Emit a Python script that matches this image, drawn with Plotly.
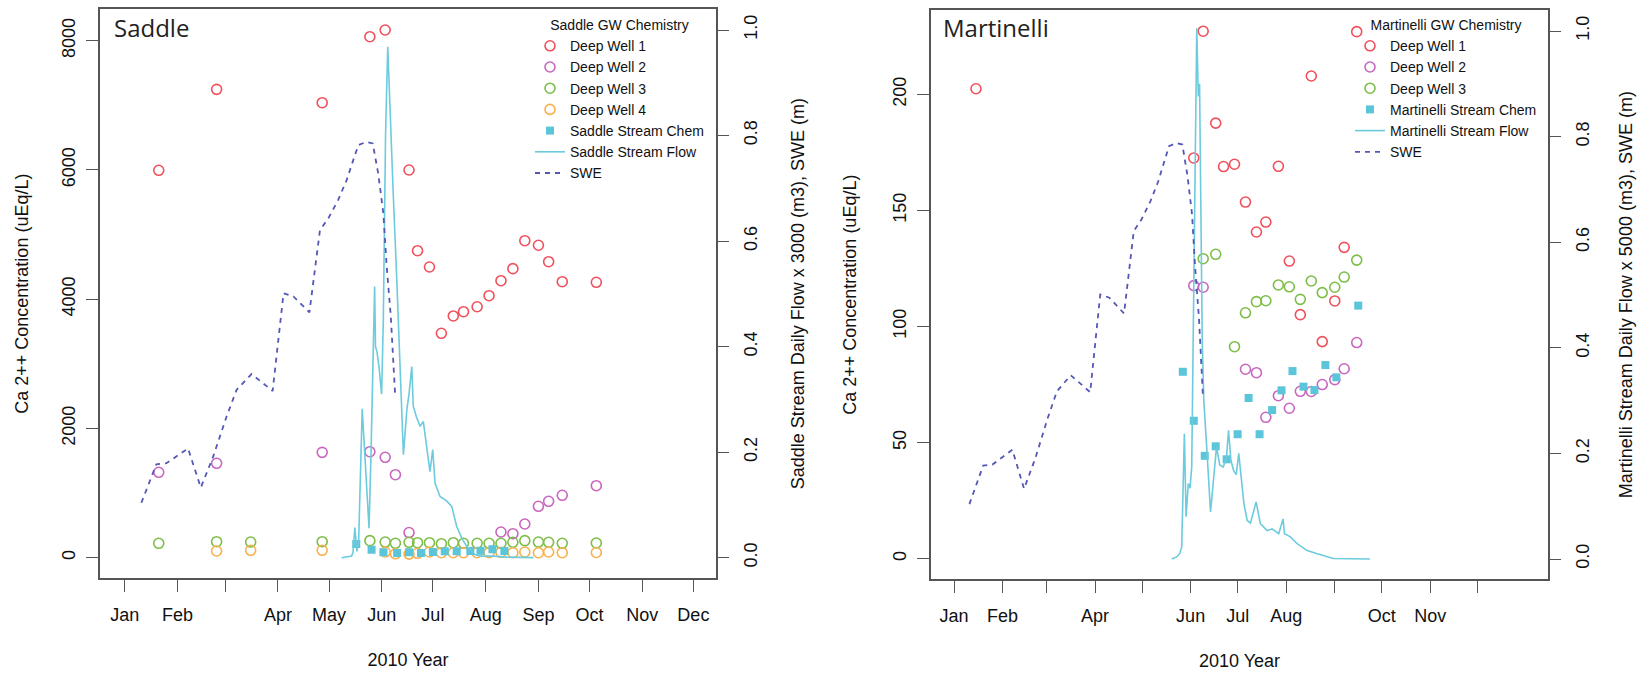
import pandas as pd
import plotly.graph_objects as go

# ---------------- Saddle data ----------------
sad_dw1_dates = ["2010-01-21", "2010-02-24", "2010-04-27", "2010-05-25", "2010-06-03", "2010-06-17",
                 "2010-06-22", "2010-06-29", "2010-07-06", "2010-07-13", "2010-07-19", "2010-07-27",
                 "2010-08-03", "2010-08-10", "2010-08-17", "2010-08-24", "2010-09-01", "2010-09-07",
                 "2010-09-15", "2010-10-05"]
sad_dw1 = [5994, 7247, 7040, 8061, 8165, 5999, 4750, 4498, 3472, 3740, 3806, 3883, 4054, 4286,
           4472, 4905, 4834, 4580, 4270, 4261]

sad_dw2_dates = ["2010-01-21", "2010-02-24", "2010-04-27", "2010-05-25", "2010-06-03", "2010-06-09",
                 "2010-06-17", "2010-08-10", "2010-08-17", "2010-08-24", "2010-09-01", "2010-09-07",
                 "2010-09-15", "2010-10-05"]
sad_dw2 = [1321, 1460, 1630, 1640, 1553, 1284, 389, 397, 371, 521, 795, 872, 965, 1114]

sad_dw3_dates = ["2010-01-21", "2010-02-24", "2010-03-16", "2010-04-27", "2010-05-25", "2010-06-03",
                 "2010-06-09", "2010-06-17", "2010-06-22", "2010-06-29", "2010-07-06", "2010-07-13",
                 "2010-07-19", "2010-07-27", "2010-08-03", "2010-08-10", "2010-08-17", "2010-08-24",
                 "2010-09-01", "2010-09-07", "2010-09-15", "2010-10-05"]
sad_dw3 = [222, 247, 242, 247, 263, 242, 222, 238, 232, 232, 216, 232, 222, 222, 222, 222, 238,
           263, 242, 238, 222, 227]

sad_dw4_dates = ["2010-02-24", "2010-03-16", "2010-04-27", "2010-06-03", "2010-06-09", "2010-06-17",
                 "2010-06-22", "2010-06-29", "2010-07-06", "2010-07-13", "2010-07-19", "2010-07-27",
                 "2010-08-03", "2010-08-10", "2010-08-17", "2010-08-24", "2010-09-01", "2010-09-07",
                 "2010-09-15", "2010-10-05"]
sad_dw4 = [103, 114, 114, 88, 60, 55, 68, 88, 77, 77, 77, 77, 77, 83, 77, 88, 77, 88, 77, 80]

sad_chem_dates = ["2010-05-17", "2010-05-26", "2010-06-02", "2010-06-10", "2010-06-17", "2010-06-24",
                  "2010-07-01", "2010-07-08", "2010-07-15", "2010-07-23", "2010-07-29", "2010-08-05",
                  "2010-08-12"]
sad_chem = [212, 123, 83, 72, 83, 72, 88, 99, 99, 103, 108, 130, 103]

# Saddle stream daily flow x 3000 (days since 2010-01-01, value)
sad_flow_day = [127.4, 133.3, 134.1, 135.2, 136.4, 137.4, 139.5, 140.8, 142.0, 143.5, 144.7, 146.8,
                147.3, 148.2, 149.4, 150.9, 151.9, 153.2, 154.5, 155.2, 155.8, 157.6, 159.8, 161.3,
                162.7, 163.7, 165.7, 167.0, 168.6, 169.5, 171.5, 173.5, 175.4, 176.4, 177.9, 179.3,
                180.9, 182.3, 185.2, 189.2, 192.1, 195.0, 198.0, 200.9, 205.8, 208.7, 216.6, 224.4,
                240.1]
sad_flow = [0.000, 0.003, 0.010, 0.057, 0.012, 0.030, 0.282, 0.200, 0.140, 0.056, 0.200, 0.514,
            0.400, 0.390, 0.360, 0.310, 0.450, 0.800, 0.968, 0.900, 0.839, 0.700, 0.527, 0.410,
            0.300, 0.195, 0.280, 0.310, 0.362, 0.287, 0.265, 0.249, 0.258, 0.236, 0.200, 0.163,
            0.205, 0.141, 0.116, 0.107, 0.097, 0.059, 0.037, 0.021, 0.006, 0.003, 0.003, 0.001,
            0.000]

# SWE (m), shared by both sites (days since 2010-01-01, value)
swe_day = [9.8, 18.6, 24.5, 37.2, 44.7, 51.9, 59.8, 65.7, 74.5, 86.9, 93.3, 99.1, 108.5, 114.7,
           119.6, 125.4, 130.4, 137.2, 142.1, 145.7, 148.9, 151.9, 153.9, 156.3, 158.8]
swe_m = [0.104, 0.177, 0.179, 0.207, 0.133, 0.191, 0.267, 0.318, 0.348, 0.316, 0.501, 0.495,
         0.465, 0.621, 0.643, 0.678, 0.716, 0.782, 0.788, 0.785, 0.728, 0.653, 0.551, 0.457, 0.311]

# ---------------- Martinelli data ----------------
mar_dw1_dates = ["2010-01-15", "2010-06-03", "2010-06-09", "2010-06-17", "2010-06-22", "2010-06-29",
                 "2010-07-06", "2010-07-13", "2010-07-19", "2010-07-27", "2010-08-03", "2010-08-10",
                 "2010-08-17", "2010-08-24", "2010-09-01", "2010-09-07", "2010-09-15"]
mar_dw1 = [202.4, 172.6, 227.2, 187.6, 168.9, 169.9, 153.6, 140.7, 145.0, 169.0, 128.2, 105.1,
           207.9, 93.5, 111.0, 134.1, 227.0]

mar_dw2_dates = ["2010-06-03", "2010-06-09", "2010-07-06", "2010-07-13", "2010-07-19", "2010-07-27",
                 "2010-08-03", "2010-08-10", "2010-08-17", "2010-08-24", "2010-09-01", "2010-09-07",
                 "2010-09-15"]
mar_dw2 = [117.6, 116.9, 81.6, 80.1, 60.9, 70.2, 64.8, 72.1, 72.0, 75.0, 77.1, 81.8, 93.1]

mar_dw3_dates = ["2010-06-09", "2010-06-17", "2010-06-29", "2010-07-06", "2010-07-13", "2010-07-19",
                 "2010-07-27", "2010-08-03", "2010-08-10", "2010-08-17", "2010-08-24", "2010-09-01",
                 "2010-09-07", "2010-09-15"]
mar_dw3 = [129.2, 131.1, 91.3, 105.9, 110.7, 111.1, 117.9, 117.1, 111.7, 119.6, 114.6, 116.9,
           121.3, 128.6]

mar_chem_dates = ["2010-05-27", "2010-06-03", "2010-06-10", "2010-06-17", "2010-06-24", "2010-07-01",
                  "2010-07-08", "2010-07-15", "2010-07-23", "2010-07-29", "2010-08-05", "2010-08-12",
                  "2010-08-19", "2010-08-26", "2010-09-02", "2010-09-16"]
mar_chem = [80.5, 59.4, 44.3, 48.4, 42.8, 53.6, 69.2, 53.6, 64.0, 72.5, 80.8, 74.1, 72.6, 83.4,
            78.1, 109.0]

# Martinelli stream daily flow x 5000 (days since 2010-01-01, value)
mar_flow_day = [138.9, 142.1, 144.2, 145.3, 147.0, 148.1, 149.5, 150.6, 151.7, 153.0, 154.9, 155.9,
                156.7, 158.4, 159.4, 161.5, 163.7, 167.5, 169.6, 171.7, 173.8, 175.2, 176.7, 178.4,
                180.1, 181.7, 183.2, 185.0, 187.1, 189.2, 192.8, 195.5, 199.8, 203.0, 207.2, 210.0,
                210.9, 214.7, 219.0, 225.4, 231.8, 242.1, 265.4]
mar_flow = [0.000, 0.004, 0.011, 0.023, 0.237, 0.080, 0.143, 0.134, 0.175, 0.550, 1.005, 0.876,
            0.900, 0.415, 0.300, 0.200, 0.089, 0.212, 0.178, 0.174, 0.190, 0.244, 0.187, 0.168,
            0.160, 0.200, 0.162, 0.105, 0.073, 0.068, 0.108, 0.067, 0.054, 0.057, 0.048, 0.076,
            0.048, 0.042, 0.029, 0.016, 0.010, 0.001, 0.000]

month_ticks = ["2010-01-01", "2010-02-01", "2010-03-01", "2010-04-01", "2010-05-01", "2010-06-01",
               "2010-07-01", "2010-08-01", "2010-09-01", "2010-10-01", "2010-11-01", "2010-12-01"]
sad_month_labels = ["Jan", "Feb", "", "Apr", "May", "Jun", "Jul", "Aug", "Sep", "Oct", "Nov", "Dec"]
mar_month_labels = ["Jan", "Feb", "", "Apr", "", "Jun", "Jul", "Aug", "", "Oct", "Nov", ""]

conc_ticks_sad = [0, 2000, 4000, 6000, 8000]
conc_ticks_mar = [0, 50, 100, 150, 200]
flow_ticks = [0.0, 0.2, 0.4, 0.6, 0.8, 1.0]

# ---------------- styling ----------------
C_DW1 = "#F0505C"
C_DW2 = "#C866C0"
C_DW3 = "#7DBE48"
C_DW4 = "#F8B050"
C_CHEM = "#5BC5D9"
C_FLOW = "#6CCBDD"
C_SWE = "#5357B6"
FONT = "Liberation Sans, Arial, Helvetica, sans-serif"
AX = "#555555"

W, H = 1646, 675
BASE = pd.Timestamp("2010-01-01")


def days_to_dates(days):
    return [BASE + pd.Timedelta(days=d) for d in days]


def circles(name, x, y, color, xa, ya, leg):
    return go.Scatter(x=pd.to_datetime(x), y=y, name=name, mode="markers", xaxis=xa, yaxis=ya,
                      legend=leg,
                      marker=dict(symbol="circle-open", size=10, color=color, line=dict(width=1.6)))


fig = go.Figure()
# Saddle
fig.add_trace(circles("Deep Well 1", sad_dw1_dates, sad_dw1, C_DW1, "x", "y", "legend"))
fig.add_trace(circles("Deep Well 2", sad_dw2_dates, sad_dw2, C_DW2, "x", "y", "legend"))
fig.add_trace(circles("Deep Well 3", sad_dw3_dates, sad_dw3, C_DW3, "x", "y", "legend"))
fig.add_trace(circles("Deep Well 4", sad_dw4_dates, sad_dw4, C_DW4, "x", "y", "legend"))
fig.add_trace(go.Scatter(x=pd.to_datetime(sad_chem_dates), y=sad_chem, name="Saddle Stream Chem",
                         mode="markers", xaxis="x", yaxis="y", legend="legend",
                         marker=dict(symbol="square", size=8, color=C_CHEM)))
fig.add_trace(go.Scatter(x=days_to_dates(sad_flow_day), y=sad_flow, name="Saddle Stream Flow",
                         mode="lines", xaxis="x", yaxis="y2", legend="legend",
                         line=dict(color=C_FLOW, width=1.6)))
fig.add_trace(go.Scatter(x=days_to_dates(swe_day), y=swe_m, name="SWE", mode="lines",
                         xaxis="x", yaxis="y2", legend="legend",
                         line=dict(color=C_SWE, width=1.8, dash="5px,5px")))
# Martinelli
fig.add_trace(circles("Deep Well 1", mar_dw1_dates, mar_dw1, C_DW1, "x2", "y3", "legend2"))
fig.add_trace(circles("Deep Well 2", mar_dw2_dates, mar_dw2, C_DW2, "x2", "y3", "legend2"))
fig.add_trace(circles("Deep Well 3", mar_dw3_dates, mar_dw3, C_DW3, "x2", "y3", "legend2"))
fig.add_trace(go.Scatter(x=pd.to_datetime(mar_chem_dates), y=mar_chem, name="Martinelli Stream Chem",
                         mode="markers", xaxis="x2", yaxis="y3", legend="legend2",
                         marker=dict(symbol="square", size=8, color=C_CHEM)))
fig.add_trace(go.Scatter(x=days_to_dates(mar_flow_day), y=mar_flow, name="Martinelli Stream Flow",
                         mode="lines", xaxis="x2", yaxis="y4", legend="legend2",
                         line=dict(color=C_FLOW, width=1.6)))
fig.add_trace(go.Scatter(x=days_to_dates(swe_day), y=swe_m, name="SWE", mode="lines",
                         xaxis="x2", yaxis="y4", legend="legend2",
                         line=dict(color=C_SWE, width=1.8, dash="5px,5px")))

tickfont = dict(family=FONT, size=18, color="#111111")
titlefont = dict(family=FONT, size=18, color="#111111")


def xaxis(domain, rng, labels, anchor):
    return dict(domain=domain, range=rng, type="date", anchor=anchor,
                tickmode="array", tickvals=month_ticks, ticktext=labels,
                ticks="outside", ticklen=12, tickwidth=1.4, tickcolor=AX,
                showline=True, linecolor=AX, linewidth=1.6, mirror=True,
                showgrid=False, zeroline=False, tickfont=tickfont,
                ticklabelstandoff=7,
                title=dict(text="2010 Year", font=titlefont, standoff=30))


def yaxis_left(domain, rng, tickvals, anchor, standoff):
    return dict(domain=domain, range=rng, anchor=anchor, tickmode="array", tickvals=tickvals,
                ticks="outside", ticklen=12, tickwidth=1.4, tickcolor=AX, tickangle=-90,
                showline=True, linecolor=AX, linewidth=1.6, mirror=True,
                showgrid=False, zeroline=False, tickfont=tickfont, ticklabelstandoff=4,
                title=dict(text="Ca 2++ Concentration (uEq/L)", font=titlefont, standoff=standoff))


def yaxis_right(rng, anchor, overlay, title, standoff):
    return dict(range=rng, anchor=anchor, overlaying=overlay, side="right",
                tickmode="array", tickvals=flow_ticks, tickformat=".1f",
                ticks="outside", ticklen=12, tickwidth=1.4, tickcolor=AX, tickangle=-90,
                showline=False, showgrid=False, zeroline=False, tickfont=tickfont,
                ticklabelstandoff=6,
                title=dict(text=title, font=titlefont, standoff=standoff))


fig.update_layout(
    width=W, height=H,
    margin=dict(l=0, r=0, t=0, b=0, pad=0),
    paper_bgcolor="white", plot_bgcolor="white",
    font=dict(family=FONT, size=14, color="#111111"),
    xaxis=xaxis([100 / W, 716 / W], ["2009-12-17 12:00", "2010-12-14 07:00"], sad_month_labels, "y"),
    yaxis=yaxis_left([(H - 578.3) / H, (H - 9) / H], [-319.2, 8490], conc_ticks_sad, "x", 26),
    yaxis2=yaxis_right([-0.0391, 1.0398], "x", "y",
                       "Saddle Stream Daily Flow x 3000 (m3), SWE (m)", 31),
    xaxis2=xaxis([931 / W, 1548 / W], ["2009-12-17 07:00", "2011-01-15 02:00"], mar_month_labels, "y3"),
    yaxis3=yaxis_left([(H - 579.3) / H, (H - 10) / H], [-8.886, 236.33], conc_ticks_mar, "x2", 29),
    yaxis4=yaxis_right([-0.0384, 1.0398], "x2", "y3",
                       "Martinelli Stream Daily Flow x 5000 (m3), SWE (m)", 27),
    legend=dict(x=530 / W, y=1 - 12 / H, xanchor="left", yanchor="top",
                bgcolor="rgba(0,0,0,0)", borderwidth=0, tracegroupgap=0,
                font=dict(family=FONT, size=14, color="#111111"),
                title=dict(text="Saddle GW Chemistry", side="top center",
                           font=dict(family=FONT, size=14, color="#111111"))),
    legend2=dict(x=1350 / W, y=1 - 12 / H, xanchor="left", yanchor="top",
                 bgcolor="rgba(0,0,0,0)", borderwidth=0, tracegroupgap=0,
                 font=dict(family=FONT, size=14, color="#111111"),
                 title=dict(text="Martinelli GW Chemistry", side="top center",
                            font=dict(family=FONT, size=14, color="#111111"))),
    annotations=[
        dict(text="Saddle", x=112 / W, y=1 - 28 / H, xref="paper", yref="paper",
             xanchor="left", yanchor="middle", showarrow=False,
             font=dict(family="Open Sans, sans-serif", size=24, color="#222222")),
        dict(text="Martinelli", x=941 / W, y=1 - 28 / H, xref="paper", yref="paper",
             xanchor="left", yanchor="middle", showarrow=False,
             font=dict(family="Open Sans, sans-serif", size=24, color="#222222")),
    ],
)

fig.write_html("out.html")
